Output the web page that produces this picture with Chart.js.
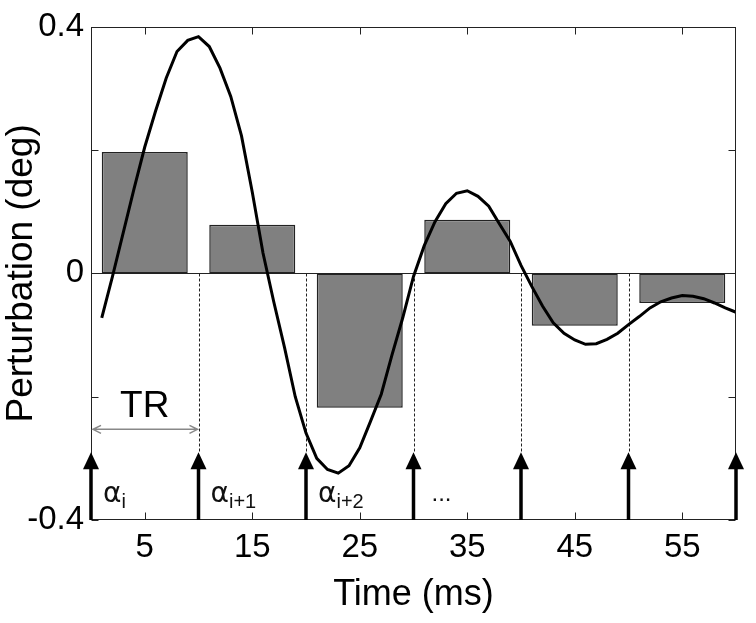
<!DOCTYPE html>
<html>
<head>
<meta charset="utf-8">
<script src="https://cdn.jsdelivr.net/npm/chart.js@4.4.1/dist/chart.umd.min.js"></script>
<style>
  html,body{margin:0;padding:0;background:#fff;}
</style>
</head>
<body>
<canvas id="pertChart" width="756" height="623"></canvas>
<script>
// bar heights, one per TR interval (centre of each interval in ms)
const binCentres = [5, 15, 25, 35, 45, 55];
const binValues  = [0.197, 0.079, -0.218, 0.087, -0.085, -0.048];

// continuous perturbation curve
const curveTime = [1,2,3,4,5,6,7,8,9,10,11,12,13,14,15,16,17,18,19,20,21,22,23,24,25,26,27,28,29,30,
                   31,32,33,34,35,36,37,38,39,40,41,42,43,44,45,46,47,48,49,50,51,52,53,54,55,56,57,58,59,60];
const curveValues = [-0.072,-0.005,0.066,0.137,0.205,0.263,0.317,0.360,0.378,0.384,
                     0.368,0.333,0.287,0.223,0.132,0.033,-0.046,-0.120,-0.200,-0.259,
                     -0.300,-0.318,-0.324,-0.312,-0.283,-0.240,-0.196,-0.132,-0.072,-0.005,
                     0.045,0.084,0.113,0.130,0.134,0.125,0.109,0.080,0.052,0.013,
                     -0.021,-0.053,-0.080,-0.097,-0.108,-0.115,-0.114,-0.107,-0.097,-0.083,
                     -0.070,-0.056,-0.046,-0.040,-0.036,-0.037,-0.041,-0.048,-0.056,-0.063];

// RF pulses
const pulseTimes = [0, 10, 20, 30, 40, 50, 60];
const pulseTip = -0.29;
const pulseSubs = ['i', 'i+1', 'i+2'];

const xTicks = [5, 15, 25, 35, 45, 55];
const yTicks = [-0.4, -0.2, 0, 0.2, 0.4];
const yTickLabels = ['-0.4', '', '0', '', '0.4'];

const FONT = "'Liberation Sans', Arial, sans-serif";
Chart.defaults.font.family = FONT;
Chart.defaults.color = '#000';

const deco = {
  id: 'deco',
  beforeDatasetsDraw(chart){
    const {ctx, chartArea: a, scales: {x, y}} = chart;
    const y0 = Math.round(y.getPixelForValue(0)) + 0.5;
    const yTip = y.getPixelForValue(pulseTip);
    ctx.save();
    ctx.strokeStyle = '#222';
    ctx.lineWidth = 1;
    ctx.beginPath(); ctx.moveTo(a.left, y0); ctx.lineTo(a.right, y0); ctx.stroke();
    // dashed guides down to each pulse
    ctx.setLineDash([3, 2]);
    pulseTimes.forEach(t => {
      if (t <= x.min || t >= x.max) return;
      const px = Math.round(x.getPixelForValue(t)) + 0.5;
      ctx.beginPath(); ctx.moveTo(px, y0); ctx.lineTo(px, yTip); ctx.stroke();
    });
    ctx.restore();
  },
  afterDatasetsDraw(chart){
    const {ctx, chartArea: a, scales: {x, y}} = chart;
    ctx.save();
    // frame + inward ticks
    ctx.strokeStyle = '#222';
    ctx.lineWidth = 1;
    const L = Math.round(a.left) + 0.5, R = Math.round(a.right) - 0.5;
    const T = Math.round(a.top) + 0.5, B = Math.round(a.bottom) - 0.5;
    ctx.strokeRect(L, T, R - L, B - T);
    ctx.beginPath();
    xTicks.forEach(v => {
      const px = Math.round(x.getPixelForValue(v)) + 0.5;
      ctx.moveTo(px, B); ctx.lineTo(px, B - 7);
      ctx.moveTo(px, T); ctx.lineTo(px, T + 7);
    });
    yTicks.forEach(v => {
      const py = Math.round(y.getPixelForValue(v)) + 0.5;
      ctx.moveTo(L, py); ctx.lineTo(L + 7, py);
      ctx.moveTo(R, py); ctx.lineTo(R - 7, py);
    });
    ctx.stroke();

    // pulse arrows
    const yTip = y.getPixelForValue(pulseTip);
    ctx.fillStyle = '#000';
    ctx.strokeStyle = '#000';
    pulseTimes.forEach(t => {
      const px = x.getPixelForValue(t);
      ctx.lineWidth = 3.5;
      ctx.beginPath(); ctx.moveTo(px, a.bottom); ctx.lineTo(px, yTip + 12); ctx.stroke();
      ctx.beginPath();
      ctx.moveTo(px, yTip);
      ctx.lineTo(px - 8, yTip + 17);
      ctx.lineTo(px + 8, yTip + 17);
      ctx.closePath(); ctx.fill();
    });

    // flip angle labels
    const base = y.getPixelForValue(-0.37);
    pulseSubs.forEach((s, i) => {
      const px = x.getPixelForValue(pulseTimes[i]) + 12;
      ctx.font = "28px 'DejaVu Sans', sans-serif";
      ctx.textAlign = 'left';
      ctx.textBaseline = 'alphabetic';
      ctx.fillStyle = '#111';
      ctx.fillText('\u03b1', px, base);
      const w = ctx.measureText('\u03b1').width;
      ctx.font = '20px ' + FONT;
      ctx.fillText(s, px + w, base + 6);
    });
    ctx.font = '24px ' + FONT;
    ctx.fillText('...', x.getPixelForValue(pulseTimes[3]) + 18, base - 1);

    // TR span
    const yTR = y.getPixelForValue(-0.253);
    const x0 = x.getPixelForValue(pulseTimes[0]) + 2, x1 = x.getPixelForValue(pulseTimes[1]) - 1;
    ctx.strokeStyle = '#888';
    ctx.lineWidth = 1.5;
    ctx.beginPath();
    ctx.moveTo(x0, yTR); ctx.lineTo(x1, yTR);
    ctx.moveTo(x0 + 8, yTR - 4); ctx.lineTo(x0, yTR); ctx.lineTo(x0 + 8, yTR + 4);
    ctx.moveTo(x1 - 8, yTR - 4); ctx.lineTo(x1, yTR); ctx.lineTo(x1 - 8, yTR + 4);
    ctx.stroke();
    ctx.fillStyle = '#000';
    ctx.font = '37px ' + FONT;
    ctx.textAlign = 'center';
    ctx.fillText('TR', x.getPixelForValue((pulseTimes[0] + pulseTimes[1]) / 2), yTR - 12);
    ctx.restore();
  }
};

new Chart(document.getElementById('pertChart'), {
  type: 'bar',
  data: {
    datasets: [
      {
        type: 'line',
        data: curveTime.map((t, i) => ({x: t, y: curveValues[i]})),
        borderColor: '#000',
        borderWidth: 3,
        pointRadius: 0,
        tension: 0,
        order: 0
      },
      {
        type: 'bar',
        data: binCentres.map((c, i) => ({x: c, y: binValues[i]})),
        backgroundColor: '#808080',
        borderColor: '#222',
        borderWidth: 1.5,
        borderSkipped: false,
        categoryPercentage: 1.0,
        barPercentage: 0.8,
        order: 1
      }
    ]
  },
  options: {
    responsive: false,
    animation: false,
    devicePixelRatio: 1,
    layout: {padding: {top: 23, right: 20, left: 0, bottom: 0}},
    plugins: {legend: {display: false}, tooltip: {enabled: false}},
    scales: {
      x: {
        type: 'linear',
        min: 0, max: 60,
        offset: false,
        grid: {display: false, drawTicks: false},
        border: {display: false},
        afterBuildTicks: s => { s.ticks = xTicks.map(v => ({value: v})); },
        afterFit: s => { s.height = 103; },
        ticks: {font: {size: 33}, padding: 8, maxRotation: 0, autoSkip: false},
        title: {display: true, text: 'Time (ms)', font: {size: 36}, padding: {top: 0, bottom: 6}}
      },
      y: {
        min: -0.4, max: 0.4,
        grid: {display: false, drawTicks: false},
        border: {display: false},
        afterBuildTicks: s => { s.ticks = yTicks.map(v => ({value: v})); },
        afterFit: s => { s.width = 91; },
        ticks: {font: {size: 33}, padding: 7, callback: (v, i) => yTickLabels[i]},
        title: {display: true, text: 'Perturbation (deg)', font: {size: 37}, padding: {top: 0, bottom: 0}}
      }
    }
  },
  plugins: [deco]
});
</script>
</body>
</html>
